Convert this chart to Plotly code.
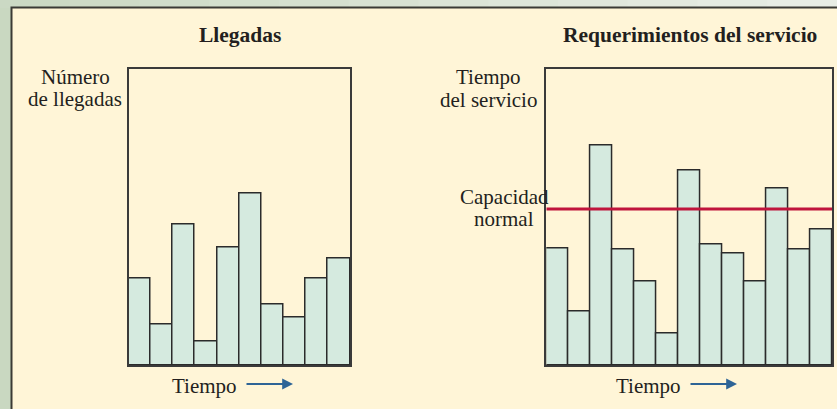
import plotly.graph_objects as go

W, H = 837, 409

# datos (escala 0-100 del alto del recuadro)
llegadas = [29.2, 13.8, 47.5, 7.9, 39.7, 57.9, 20.5, 16.0, 29.2, 35.9]
servicio = [39.2, 18.0, 73.9, 38.8, 28.1, 10.5, 65.7, 40.7, 37.5, 28.3, 59.6, 38.8, 45.6]
capacidad = 52.6

bar_fill = "#d5eadf"
edge = "#2b2b2b"
font = "Liberation Serif"


def px(x):
    return x / W


def py(y):
    return 1 - y / H


fig = go.Figure()

fig.add_trace(go.Bar(
    x=list(range(len(llegadas))), y=llegadas, width=1,
    marker=dict(color=bar_fill, line=dict(color=edge, width=1.5)),
    xaxis="x", yaxis="y", showlegend=False, hoverinfo="skip"))

fig.add_trace(go.Bar(
    x=list(range(len(servicio))), y=servicio, width=1,
    marker=dict(color=bar_fill, line=dict(color=edge, width=1.5)),
    xaxis="x2", yaxis="y2", showlegend=False, hoverinfo="skip"))

fig.add_trace(go.Scatter(
    x=[-0.5, len(servicio) - 0.5], y=[capacidad, capacidad], mode="lines",
    line=dict(color="#c0143c", width=3),
    xaxis="x2", yaxis="y2", showlegend=False, hoverinfo="skip"))

axis_common = dict(showgrid=False, zeroline=False, showticklabels=False, ticks="",
                   showline=True, mirror=True, linecolor="#3a3a3a", linewidth=1.5)

ydom = [py(365), py(68.5)]

fig.update_layout(
    width=W, height=H,
    margin=dict(l=0, r=0, t=0, b=0),
    paper_bgcolor="#c9d8c1",
    plot_bgcolor="rgba(0,0,0,0)",
    bargap=0,
    xaxis=dict(domain=[px(128.5), px(350)], range=[-0.5, len(llegadas) - 0.5], **axis_common),
    yaxis=dict(domain=ydom, range=[0, 100], **axis_common),
    xaxis2=dict(domain=[px(546.3), px(832)], range=[-0.5, len(servicio) - 0.5],
                anchor="y2", **axis_common),
    yaxis2=dict(domain=ydom, range=[0, 100], anchor="x2", **axis_common),
)

# franja superior que se aclara hacia la derecha (degradado en pasos)
steps = 12
c0, c1 = (201, 216, 193), (232, 237, 229)
for i in range(steps):
    t = (i + 1) / steps
    c = tuple(int(a + (b - a) * t) for a, b in zip(c0, c1))
    fig.add_shape(type="rect", xref="paper", yref="paper", layer="below",
                  x0=i / steps, x1=(i + 1) / steps + 0.002, y0=py(8), y1=1.02,
                  fillcolor="rgb(%d,%d,%d)" % c, line=dict(width=0))

# panel crema
fig.add_shape(type="rect", xref="paper", yref="paper", layer="below",
              x0=px(11.5), x1=1.02, y0=-0.02, y1=py(7.5),
              fillcolor="#fff5d7", line=dict(color="#3a3a35", width=2))

txt = dict(family=font, size=21, color="#231f20")
bold = dict(family=font, size=21.5, color="#231f20")


def label(text, x, y, f=txt):
    fig.add_annotation(text=text, x=px(x), y=py(y), xref="paper", yref="paper",
                       showarrow=False, xanchor="center", yanchor="middle", font=f)


label("<b>Llegadas</b>", 240, 35, bold)
label("<b>Requerimientos del servicio</b>", 690, 35, bold)

label("Número", 75, 77)
label("de llegadas", 75, 99)
label("Tiempo", 489, 77)
label("del servicio", 489, 100)
label("Capacidad", 504, 197)
label("normal", 504, 219)

label("Tiempo", 204, 386)
label("Tiempo", 648, 386)

for x0, x1 in [(245, 293), (689, 737)]:
    fig.add_annotation(x=px(x1), y=py(384), ax=x0 - x1, ay=0,
                       xref="paper", yref="paper",
                       text="", showarrow=True, arrowhead=2, arrowsize=1.2,
                       arrowwidth=1.8, arrowcolor="#2e6496")

fig.write_html("out.html", config={"displayModeBar": False},
               post_script="document.body.style.margin = '0';")
